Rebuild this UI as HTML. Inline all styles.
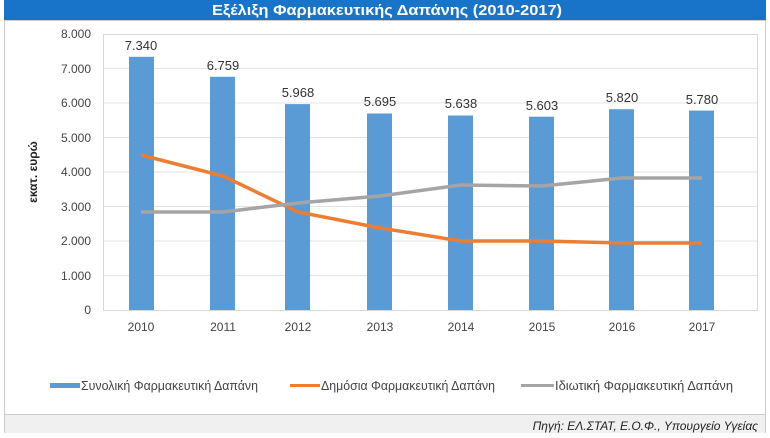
<!DOCTYPE html>
<html><head><meta charset="utf-8"><style>
body{margin:0;width:770px;height:433px;background:#fff;overflow:hidden;font-family:"Liberation Sans",sans-serif}
</style></head><body>
<svg width="770" height="433" xmlns="http://www.w3.org/2000/svg" font-family="Liberation Sans, sans-serif">
<rect x="0" y="0" width="770" height="433" fill="#fff"/>
<rect x="4" y="0" width="762" height="20" fill="#1874c8"/>
<text x="212" y="15" fill="#fff" font-size="15" font-weight="bold" textLength="350" lengthAdjust="spacingAndGlyphs">Εξέλιξη Φαρμακευτικής Δαπάνης (2010-2017)</text>
<rect x="4.5" y="20.5" width="761" height="396" fill="#fff" stroke="#ccc"/>
<rect x="4.5" y="414.5" width="761" height="19" fill="#f0f0f0" stroke="#ccc"/>
<text x="758" y="430" text-anchor="end" font-size="12" font-style="italic" fill="#222">Πηγή: ΕΛ.ΣΤΑΤ, Ε.Ο.Φ., Υπουργείο Υγείας</text>
<g stroke="#e3e3e3" stroke-width="1">
<line x1="103" y1="68.5" x2="757" y2="68.5"/><line x1="103" y1="103" x2="757" y2="103"/><line x1="103" y1="137.5" x2="757" y2="137.5"/><line x1="103" y1="172" x2="757" y2="172"/><line x1="103" y1="206.5" x2="757" y2="206.5"/><line x1="103" y1="241" x2="757" y2="241"/><line x1="103" y1="275.5" x2="757" y2="275.5"/>
</g>
<rect x="103.5" y="34.5" width="654" height="276" fill="none" stroke="#d8d8d8"/>
<g font-size="12" fill="#444" text-anchor="end">
<text x="91" y="38">8.000</text><text x="91" y="73">7.000</text><text x="91" y="107">6.000</text><text x="91" y="142">5.000</text><text x="91" y="176">4.000</text><text x="91" y="211">3.000</text><text x="91" y="245">2.000</text><text x="91" y="280">1.000</text><text x="91" y="314">0</text>
</g>
<text transform="translate(37 172) rotate(-90)" text-anchor="middle" font-size="12" font-weight="bold" fill="#222">εκατ. ευρώ</text>
<g fill="#5b9bd5">
<rect x="129" y="56.8" width="25" height="253.2"/>
<rect x="210" y="76.8" width="25" height="233.2"/>
<rect x="285" y="104.1" width="25" height="205.9"/>
<rect x="367" y="113.5" width="25" height="196.5"/>
<rect x="448" y="115.5" width="25" height="194.5"/>
<rect x="529" y="116.7" width="25" height="193.3"/>
<rect x="609" y="109.2" width="25" height="200.8"/>
<rect x="689" y="110.6" width="25" height="199.4"/>
</g>
<g font-size="13" fill="#333" text-anchor="middle">
<text x="141" y="50">7.340</text><text x="223" y="70">6.759</text><text x="298" y="97">5.968</text><text x="380" y="106">5.695</text><text x="461" y="108">5.638</text><text x="542" y="110">5.603</text><text x="622" y="102">5.820</text><text x="702" y="104">5.780</text>
</g>
<polyline points="141,155 223,176 298,212 380,228 461,241 542,241 622,243 702,243" fill="none" stroke="#ed7d31" stroke-width="3.5"/>
<polyline points="141,212 223,212 298,203 380,196 461,185 542,186 622,178 702,178" fill="none" stroke="#a5a5a5" stroke-width="3.5"/>
<g font-size="12" fill="#444" text-anchor="middle">
<text x="141" y="331">2010</text><text x="223" y="331">2011</text><text x="298" y="331">2012</text><text x="380" y="331">2013</text><text x="461" y="331">2014</text><text x="542" y="331">2015</text><text x="622" y="331">2016</text><text x="702" y="331">2017</text>
</g>
<rect x="50" y="383" width="30" height="5" fill="#5b9bd5"/>
<text x="81" y="390" font-size="13" fill="#444" textLength="177" lengthAdjust="spacingAndGlyphs">Συνολική Φαρμακευτική Δαπάνη</text>
<rect x="290" y="384" width="30" height="3" fill="#ed7d31"/>
<text x="321" y="390" font-size="13" fill="#444" textLength="174" lengthAdjust="spacingAndGlyphs">Δημόσια Φαρμακευτική Δαπάνη</text>
<rect x="521" y="384" width="33" height="3" fill="#a5a5a5"/>
<text x="555" y="390" font-size="13" fill="#444" textLength="178" lengthAdjust="spacingAndGlyphs">Ιδιωτική Φαρμακευτική Δαπάνη</text>
</svg>
</body></html>
